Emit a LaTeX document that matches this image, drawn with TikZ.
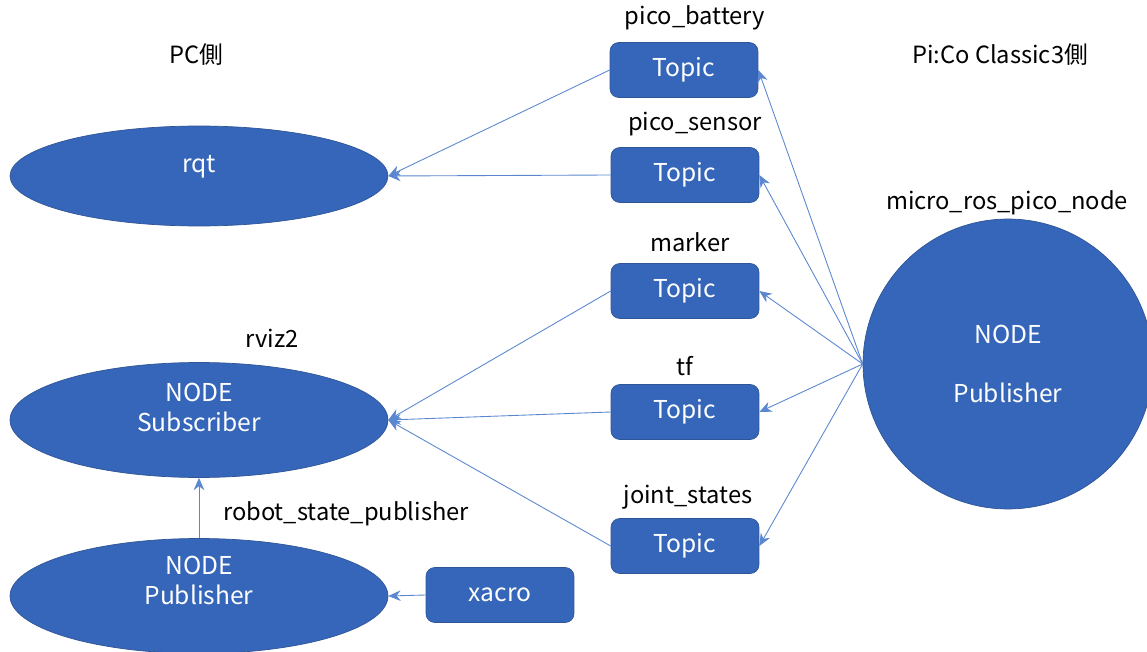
\documentclass[tikz,border=0pt]{standalone}
\usepackage{fontspec}
\setmainfont{Noto Sans CJK JP}
\usetikzlibrary{shapes.geometric, arrows.meta, positioning}
\definecolor{nodeblue}{HTML}{3566B9}
\definecolor{edgeblue}{HTML}{2F5597}
\definecolor{lineblue}{HTML}{5B87D0}
\tikzstyle{arrow} = [draw=lineblue, line width=0.5pt, -{Stealth[length=7pt,width=6pt]}, color=lineblue]
\tikzstyle{topic} = [rectangle, rounded corners=5pt, minimum width=2.96cm, minimum height=1.1cm, text centered, draw=edgeblue, fill=nodeblue, text=white, font=\fontsize{14}{17}\selectfont]
\tikzstyle{rosnode} = [ellipse, minimum width=7.56cm, minimum height=2.3cm, inner sep=0pt, align=center, draw=edgeblue, fill=nodeblue, text=white, font=\fontsize{14}{17}\selectfont]
\tikzstyle{caption} = [text=black]

\begin{document}
\begin{tikzpicture}[x=0.02cm, y=-0.02cm, font=\fontsize{13.5}{17}\selectfont]
\useasboundingbox (0,0) rectangle (1147,652);

% Sides
\node (pcside) [caption] at (196,55) {PC側};
\node (picoside) [caption] at (1000,55) {Pi:Co Classic3側};

% PC nodes
\node (rqt) [rosnode, minimum height=2cm] at (199,176) {rqt\\[-3pt]};
\node (rviz) [rosnode] at (199,420) {NODE\\Subscriber\\[-3pt]};
\node (rsp) [rosnode] at (199,596) {NODE\\Publisher\\[1pt]};
\node (xacro) [topic] at (500,595) {xacro};
\node (rvizlbl) [caption] at (272,338) {rviz2};
\node (rsplbl) [caption] at (346,514) {robot\_state\_publisher};

% Topics
\node (battery) [topic] at (684,70) {Topic};
\node (sensor) [topic] at (685,175) {Topic};
\node (marker) [topic] at (685,291) {Topic};
\node (tf) [topic] at (685,412) {Topic};
\node (joint) [topic] at (685,546) {Topic};
\node (batterylbl) [caption] at (695,18) {pico\_battery};
\node (sensorlbl) [caption] at (695,124) {pico\_sensor};
\node (markerlbl) [caption] at (690,242) {marker};
\node (tflbl) [caption] at (685,366) {tf};
\node (jointlbl) [caption] at (688,497) {joint\_states};

% Pi:Co node
\node (pico) [circle, minimum size=5.8cm, inner sep=0pt, align=center, draw=edgeblue, fill=nodeblue, text=white, font=\fontsize{14}{17}\selectfont] at (1008,364) {NODE\\[17pt]Publisher};
\node (picolbl) [caption] at (1007,203) {micro\_ros\_pico\_node};

% Connections
\draw [arrow] (battery.west) -- (rqt.east);
\draw [arrow] (sensor.west) -- (rqt.east);
\draw [arrow] (marker.west) -- (rviz.east);
\draw [arrow] (tf.west) -- (rviz.east);
\draw [arrow] (joint.west) -- (rviz.east);
\draw [arrow] (rsp.north) -- (rviz.south);
\draw [arrow] (xacro.west) -- (rsp.east);
\draw [arrow] (pico.west) -- (battery.east);
\draw [arrow] (pico.west) -- (sensor.east);
\draw [arrow] (pico.west) -- (marker.east);
\draw [arrow] (pico.west) -- (tf.east);
\draw [arrow] (pico.west) -- (joint.east);

\end{tikzpicture}
\end{document}
